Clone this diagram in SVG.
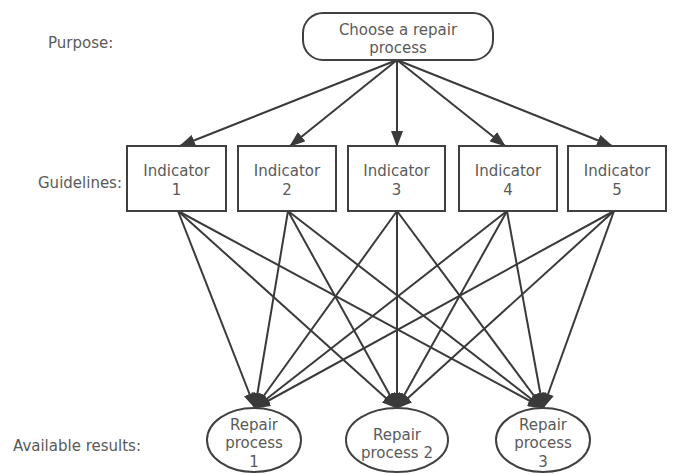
<svg xmlns="http://www.w3.org/2000/svg" width="673" height="475" viewBox="0 0 673 475">
<defs>
<marker id="ah" markerUnits="userSpaceOnUse" markerWidth="16" markerHeight="12" refX="15" refY="6" orient="auto">
<path d="M0,0 L16,6 L0,12 Z" fill="#3a3a3a"/>
</marker>
<style>
.t{font-family:"DejaVu Sans","Noto Sans",sans-serif;font-size:15px;fill:#5a5a5a;}
.m{text-anchor:middle;}
.n{fill:#fff;stroke:#404040;stroke-width:2;}
.e{stroke:#3a3a3a;stroke-width:2;fill:none;marker-end:url(#ah);}
</style>
</defs>
<rect width="673" height="475" fill="#fff"/>
<g id="labels">
<text class="t" x="48" y="48">Purpose:</text>
<text class="t" x="38" y="188">Guidelines:</text>
<text class="t" x="13" y="451">Available results:</text>
</g>
<g id="connectors">
<line class="e" x1="397" y1="60" x2="180" y2="146"/>
<line class="e" x1="397" y1="60" x2="290" y2="146"/>
<line class="e" x1="397" y1="60" x2="397" y2="146"/>
<line class="e" x1="397" y1="60" x2="505" y2="146"/>
<line class="e" x1="397" y1="60" x2="612" y2="146"/>
<line class="e" x1="178" y1="211" x2="255" y2="408"/>
<line class="e" x1="178" y1="211" x2="397" y2="408"/>
<line class="e" x1="178" y1="211" x2="543" y2="408"/>
<line class="e" x1="288" y1="211" x2="255" y2="408"/>
<line class="e" x1="288" y1="211" x2="397" y2="408"/>
<line class="e" x1="288" y1="211" x2="543" y2="408"/>
<line class="e" x1="397" y1="211" x2="255" y2="408"/>
<line class="e" x1="397" y1="211" x2="397" y2="408"/>
<line class="e" x1="397" y1="211" x2="543" y2="408"/>
<line class="e" x1="507" y1="211" x2="255" y2="408"/>
<line class="e" x1="507" y1="211" x2="397" y2="408"/>
<line class="e" x1="507" y1="211" x2="543" y2="408"/>
<line class="e" x1="614" y1="211" x2="255" y2="408"/>
<line class="e" x1="614" y1="211" x2="397" y2="408"/>
<line class="e" x1="614" y1="211" x2="543" y2="408"/>
</g>
<g id="purpose">
<rect class="n" x="303" y="13" width="190" height="47" rx="20"/>
<text class="t m" x="398" y="35">Choose a repair</text>
<text class="t m" x="398" y="53">process</text>
</g>
<g id="ind1">
<rect class="n" x="127" y="146" width="99" height="65"/>
<text class="t m" x="176.5" y="176">Indicator</text>
<text class="t m" x="176.5" y="195">1</text>
</g>
<g id="ind2">
<rect class="n" x="238" y="146" width="98" height="65"/>
<text class="t m" x="287" y="176">Indicator</text>
<text class="t m" x="287" y="195">2</text>
</g>
<g id="ind3">
<rect class="n" x="348" y="146" width="97" height="65"/>
<text class="t m" x="396.5" y="176">Indicator</text>
<text class="t m" x="396.5" y="195">3</text>
</g>
<g id="ind4">
<rect class="n" x="459" y="146" width="98" height="65"/>
<text class="t m" x="508" y="176">Indicator</text>
<text class="t m" x="508" y="195">4</text>
</g>
<g id="ind5">
<rect class="n" x="568" y="146" width="98" height="65"/>
<text class="t m" x="617" y="176">Indicator</text>
<text class="t m" x="617" y="195">5</text>
</g>
<g id="res1">
<ellipse class="n" cx="254" cy="440" rx="47" ry="32"/>
<text class="t m" x="254" y="430">Repair</text>
<text class="t m" x="254" y="448">process</text>
<text class="t m" x="254" y="467">1</text>
</g>
<g id="res2">
<ellipse class="n" cx="397" cy="440" rx="51" ry="32"/>
<text class="t m" x="397" y="440">Repair</text>
<text class="t m" x="397" y="458">process 2</text>
</g>
<g id="res3">
<ellipse class="n" cx="543" cy="440" rx="47" ry="32"/>
<text class="t m" x="543" y="430">Repair</text>
<text class="t m" x="543" y="448">process</text>
<text class="t m" x="543" y="467">3</text>
</g>
</svg>
